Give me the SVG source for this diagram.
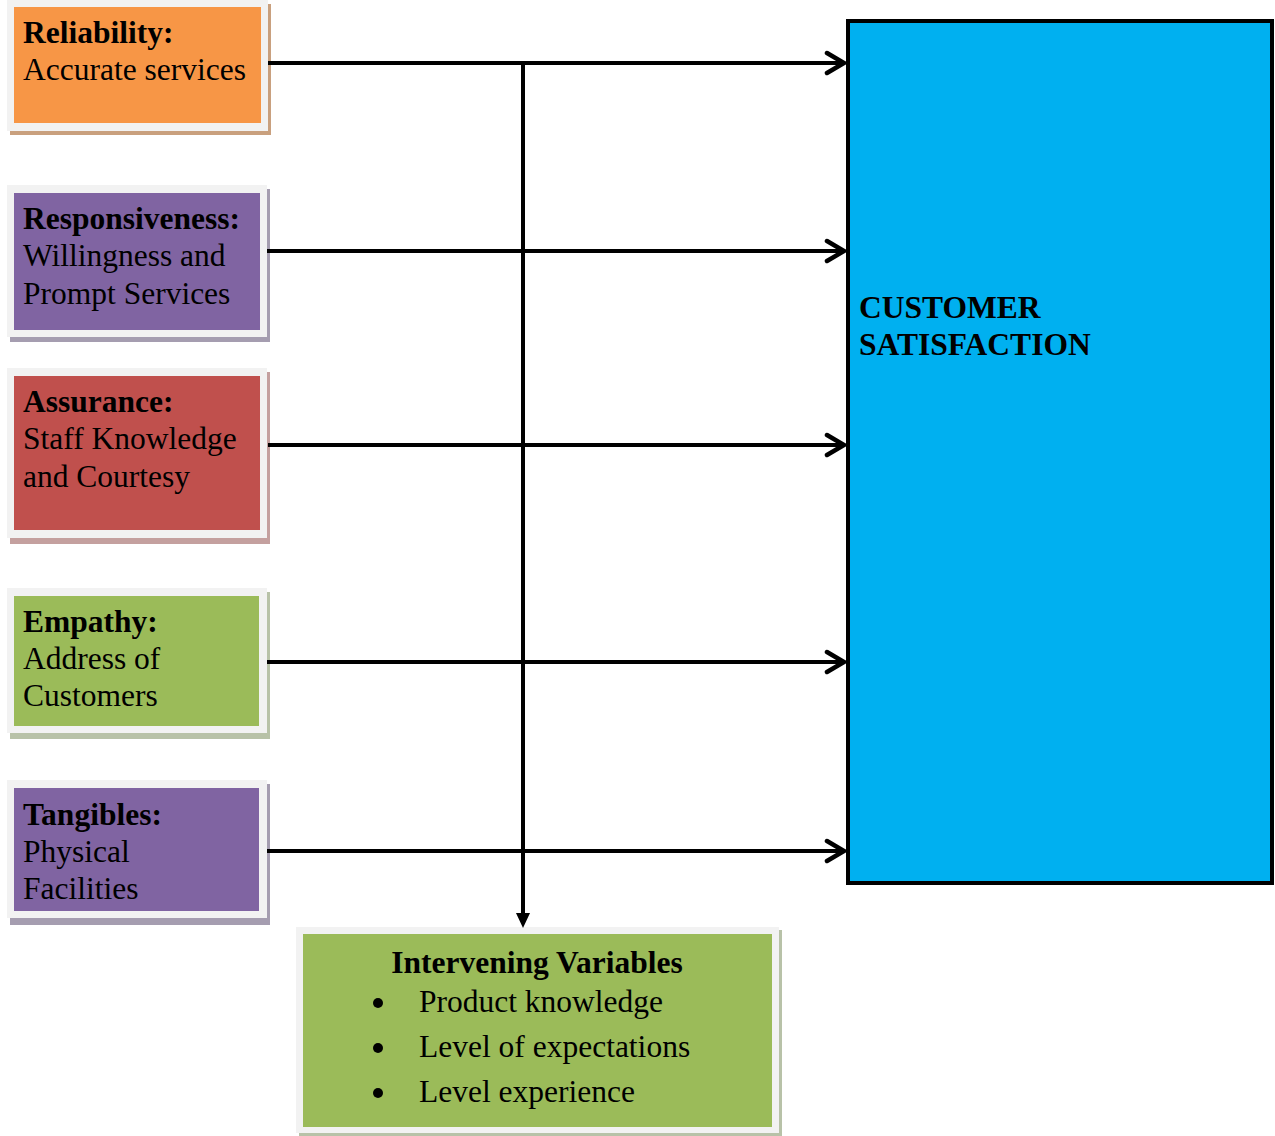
<svg xmlns="http://www.w3.org/2000/svg" width="1275" height="1136" viewBox="0 0 1275 1136">
<defs>
<style>
text{font-family:"Liberation Serif","Times New Roman",serif;font-size:31.5px;fill:#000}
.b{font-weight:bold}
.frame{fill:#f2f2f2}
.line{stroke:#000;stroke-width:4;fill:none}
</style>
<marker id="open" markerWidth="24" markerHeight="26" refX="21" refY="13" orient="auto" markerUnits="userSpaceOnUse">
<path d="M3,3 L20,13 L3,23" fill="none" stroke="#000" stroke-width="4.5" stroke-linecap="round" stroke-linejoin="miter"/>
</marker>
</defs>
<rect width="1275" height="1136" fill="#fff"/>

<g id="reliability">
<rect x="10" y="4" width="261" height="131" fill="#c9a07e"/>
<rect class="frame" x="7" y="0" width="261" height="131"/>
<rect x="14" y="7" width="247" height="116" fill="#f79646"/>
<text x="23" y="43" class="b">Reliability:</text>
<text x="23" y="80">Accurate services</text>
</g>

<g id="responsiveness">
<rect x="10" y="189" width="260" height="153" fill="#a59db0"/>
<rect class="frame" x="7" y="185" width="260" height="152"/>
<rect x="14" y="193" width="246" height="137" fill="#8064a2"/>
<text x="23" y="229" class="b">Responsiveness:</text>
<text x="23" y="266">Willingness and</text>
<text x="23" y="304">Prompt Services</text>
</g>

<g id="assurance">
<rect x="10" y="372" width="260" height="172" fill="#c4a09f"/>
<rect class="frame" x="7" y="368" width="260" height="170"/>
<rect x="14" y="376" width="246" height="154" fill="#c0504d"/>
<text x="23" y="412" class="b">Assurance:</text>
<text x="23" y="449">Staff Knowledge</text>
<text x="23" y="487">and Courtesy</text>
</g>

<g id="empathy">
<rect x="10" y="592" width="260" height="147" fill="#b8c2a8"/>
<rect class="frame" x="7" y="588" width="260" height="145"/>
<rect x="14" y="596" width="245" height="130" fill="#9bbb59"/>
<text x="23" y="632" class="b">Empathy:</text>
<text x="23" y="669">Address of</text>
<text x="23" y="706">Customers</text>
</g>

<g id="tangibles">
<rect x="10" y="784" width="260" height="141" fill="#a59db0"/>
<rect class="frame" x="7" y="780" width="260" height="138"/>
<rect x="14" y="788" width="245" height="123" fill="#8064a2"/>
<text x="23" y="825" class="b">Tangibles:</text>
<text x="23" y="862">Physical</text>
<text x="23" y="899">Facilities</text>
</g>

<g id="customer-satisfaction">
<rect x="848" y="21" width="424" height="862" fill="#00b0f0" stroke="#000" stroke-width="4"/>
<text x="859" y="318" class="b">CUSTOMER</text>
<text x="859" y="355" class="b">SATISFACTION</text>
</g>

<g id="intervening">
<rect x="299" y="930" width="483" height="206" fill="#b8c2a8"/>
<rect class="frame" x="296" y="927" width="483" height="206"/>
<rect x="303" y="934" width="469" height="193" fill="#9bbb59"/>
<text x="537" y="973" class="b" text-anchor="middle">Intervening Variables</text>
<circle cx="378" cy="1003" r="5" fill="#000"/>
<circle cx="378" cy="1048" r="5" fill="#000"/>
<circle cx="378" cy="1093" r="5" fill="#000"/>
<text x="419" y="1012">Product knowledge</text>
<text x="419" y="1057">Level of expectations</text>
<text x="419" y="1102">Level experience</text>
</g>

<g id="connectors">
<line class="line" x1="268" y1="63" x2="845" y2="63" marker-end="url(#open)"/>
<line class="line" x1="267" y1="251" x2="845" y2="251" marker-end="url(#open)"/>
<line class="line" x1="268" y1="445" x2="845" y2="445" marker-end="url(#open)"/>
<line class="line" x1="267" y1="662" x2="845" y2="662" marker-end="url(#open)"/>
<line class="line" x1="267" y1="851" x2="845" y2="851" marker-end="url(#open)"/>
<line class="line" x1="523" y1="63" x2="523" y2="915"/>
<polygon points="516,913 530,913 523,928" fill="#000"/>
</g>
</svg>
